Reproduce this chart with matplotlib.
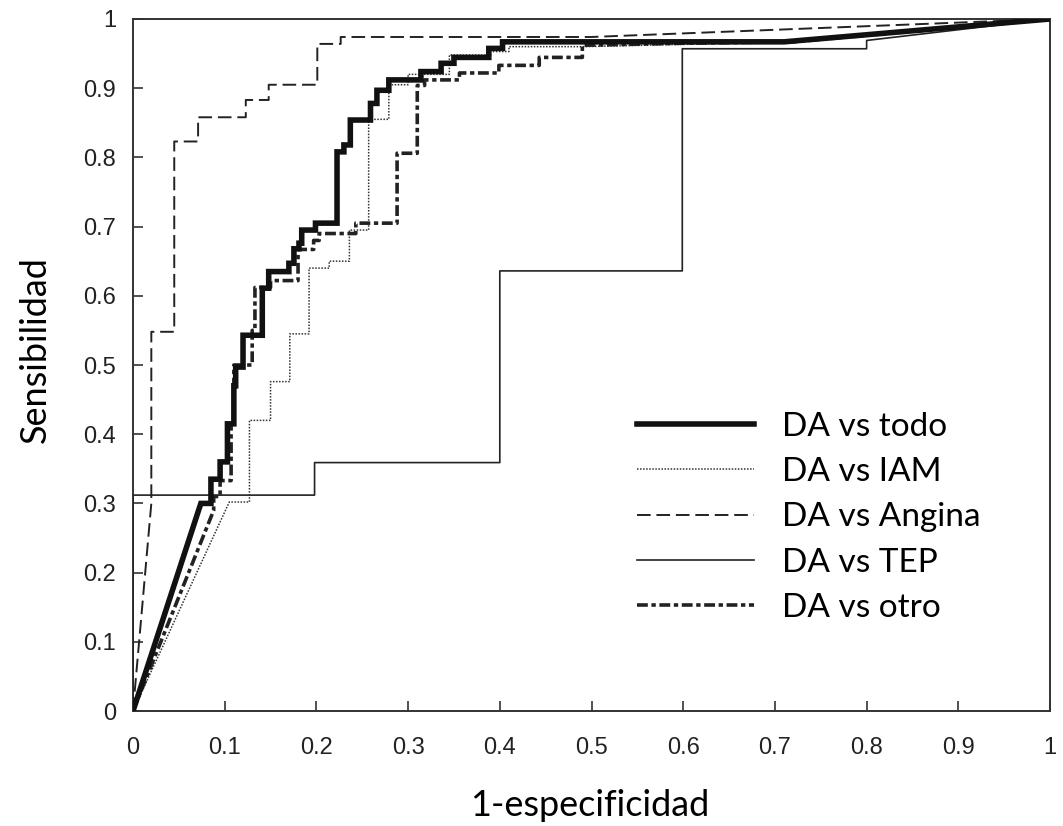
import matplotlib
matplotlib.use("Agg")
from matplotlib import pyplot as plt
import numpy as np

# ROC curves (x = 1-especificidad, y = sensibilidad)
todo_x = [0, 0.074, 0.085, 0.085, 0.095, 0.095, 0.103, 0.103, 0.110, 0.110, 0.112, 0.112, 0.120, 0.120,
          0.141, 0.141, 0.148, 0.148, 0.170, 0.170, 0.1755, 0.1755, 0.181, 0.181, 0.184, 0.184, 0.199, 0.199,
          0.2225, 0.2225, 0.230, 0.230, 0.237, 0.237, 0.259, 0.259, 0.266, 0.266, 0.279, 0.279, 0.314, 0.314,
          0.336, 0.336, 0.350, 0.350, 0.388, 0.388, 0.403, 0.403, 0.71, 1.0]
todo_y = [0, 0.300, 0.300, 0.335, 0.335, 0.360, 0.360, 0.415, 0.415, 0.470, 0.470, 0.497, 0.497, 0.543,
          0.543, 0.611, 0.611, 0.635, 0.635, 0.647, 0.647, 0.668, 0.668, 0.676, 0.676, 0.695, 0.695, 0.705,
          0.705, 0.808, 0.808, 0.818, 0.818, 0.854, 0.854, 0.878, 0.878, 0.897, 0.897, 0.912, 0.912, 0.924,
          0.924, 0.936, 0.936, 0.9445, 0.9445, 0.9575, 0.9575, 0.967, 0.967, 1.0]

iam_x = [0, 0.105, 0.127, 0.127, 0.150, 0.150, 0.171, 0.171, 0.192, 0.192, 0.214, 0.214, 0.236, 0.236,
         0.257, 0.257, 0.279, 0.279, 0.300, 0.300, 0.345, 0.345, 0.390, 0.390, 0.410, 0.410, 0.490, 0.72, 1.0]
iam_y = [0, 0.302, 0.302, 0.420, 0.420, 0.476, 0.476, 0.545, 0.545, 0.640, 0.640, 0.650, 0.650, 0.695,
         0.695, 0.855, 0.855, 0.905, 0.905, 0.920, 0.920, 0.948, 0.948, 0.953, 0.953, 0.960, 0.960, 0.967, 1.0]

angina_x = [0, 0.020, 0.020, 0.045, 0.045, 0.071, 0.071, 0.123, 0.123, 0.148, 0.148, 0.201, 0.201,
            0.2265, 0.2265, 0.50, 1.0]
angina_y = [0, 0.300, 0.548, 0.548, 0.823, 0.823, 0.858, 0.858, 0.883, 0.883, 0.905, 0.905, 0.964,
            0.964, 0.974, 0.974, 1.0]

tep_x = [0, 0, 0.198, 0.198, 0.400, 0.400, 0.599, 0.599, 0.800, 0.800, 1.0]
tep_y = [0, 0.312, 0.312, 0.359, 0.359, 0.636, 0.636, 0.957, 0.957, 0.969, 1.0]

otro_x = [0, 0.088, 0.088, 0.095, 0.095, 0.107, 0.107, 0.110, 0.110, 0.130, 0.130, 0.133, 0.133,
          0.150, 0.150, 0.180, 0.180, 0.197, 0.197, 0.203, 0.203, 0.243, 0.243, 0.288, 0.288, 0.310,
          0.310, 0.318, 0.318, 0.356, 0.356, 0.399, 0.399, 0.443, 0.443, 0.490, 0.490, 0.60, 0.72, 1.0]
otro_y = [0, 0.290, 0.310, 0.310, 0.333, 0.333, 0.415, 0.415, 0.500, 0.500, 0.550, 0.550, 0.612,
          0.612, 0.622, 0.622, 0.667, 0.667, 0.680, 0.680, 0.690, 0.690, 0.705, 0.705, 0.806, 0.806,
          0.904, 0.904, 0.912, 0.912, 0.922, 0.922, 0.933, 0.933, 0.9445, 0.9445, 0.962, 0.965, 0.967, 1.0]

labels = ['DA vs todo', 'DA vs IAM', 'DA vs Angina', 'DA vs TEP', 'DA vs otro']
ticks = np.round(np.arange(0, 1.01, 0.1), 1)
tick_labels = ['0' if t == 0 else ('1' if t == 1 else '%.1f' % t) for t in ticks]

tick_font = ['Liberation Sans Narrow', 'Liberation Sans', 'DejaVu Sans']
text_font = ['Lato', 'DejaVu Sans']

fig = plt.figure(figsize=(10.63, 8.26), dpi=100)
ax = fig.add_axes([0.1251, 0.1392, 0.8627, 0.8378])

ax.plot(todo_x, todo_y, color='#111111', lw=4.0, solid_joinstyle='miter', label=labels[0], zorder=5)
ax.plot(iam_x, iam_y, color='#333333', lw=1.1, linestyle=(0, (1, 1)), label=labels[1], zorder=4)
ax.plot(angina_x, angina_y, color='#222222', lw=1.4, linestyle=(0, (7, 3)), label=labels[2], zorder=3)
ax.plot(tep_x, tep_y, color='#222222', lw=1.2, label=labels[3], zorder=3)
ax.plot(otro_x, otro_y, color='#222222', lw=2.6, linestyle=(0, (3, 1, 1.2, 1)), label=labels[4], zorder=4)

ax.set_xlim(0, 1)
ax.set_ylim(0, 1)
ax.set_xticks(ticks)
ax.set_yticks(ticks)
ax.set_xticklabels(tick_labels, family=tick_font, fontsize=17, color='#222222')
ax.set_yticklabels(tick_labels, family=tick_font, fontsize=17, color='#222222')
ax.tick_params(direction='in', length=7, width=1.2, color='#333333')
ax.tick_params(axis='x', pad=19)
ax.tick_params(axis='y', pad=12)
for s in ax.spines.values():
    s.set_linewidth(1.4)
    s.set_color('#333333')

ax.set_xlabel('1-especificidad', family=text_font, fontsize=26)
ax.set_ylabel('Sensibilidad', family=text_font, fontsize=26)
ax.xaxis.set_label_coords(0.498, -0.113)
ax.yaxis.set_label_coords(-0.089, 0.522)

leg = ax.legend(loc='upper left', bbox_to_anchor=(0.517, 0.476), frameon=False,
                prop={'family': text_font, 'size': 24}, handlelength=3.5,
                labelspacing=0.46, handletextpad=0.84)

fig.savefig('out.png', dpi=100)
